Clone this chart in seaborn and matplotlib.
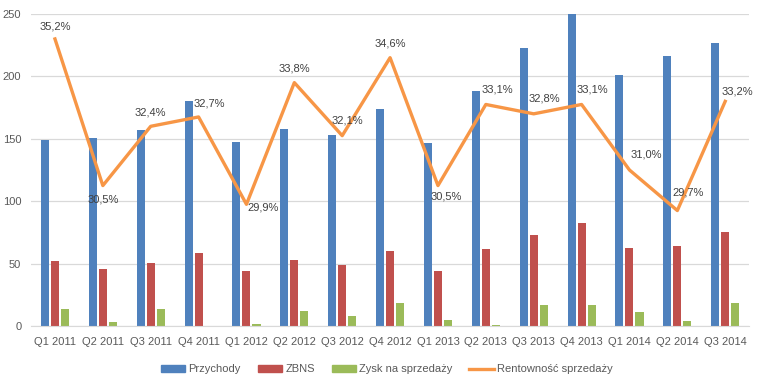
import numpy as np
import pandas as pd
import matplotlib
matplotlib.use('Agg')
import matplotlib.pyplot as plt
import seaborn as sns
from matplotlib.patches import Patch
from matplotlib.lines import Line2D

# dane
kwartaly = ['Q1 2011', 'Q2 2011', 'Q3 2011', 'Q4 2011', 'Q1 2012', 'Q2 2012', 'Q3 2012', 'Q4 2012',
            'Q1 2013', 'Q2 2013', 'Q3 2013', 'Q4 2013', 'Q1 2014', 'Q2 2014', 'Q3 2014']
przychody = [149, 151, 157, 180, 147.5, 158, 153, 174, 147, 188, 223, 250, 201, 216, 227]
zbns = [52, 46, 50.5, 58.5, 44, 53, 49, 60, 44, 62, 73, 82.5, 62.5, 64, 75]
zysk = [13.6, 3.2, 13.6, 0, 1.6, 12, 8, 18.4, 4.8, 1, 17, 17, 11, 4, 18.4]
rentownosc = [35.2, 30.5, 32.4, 32.7, 29.9, 33.8, 32.1, 34.6, 30.5, 33.1, 32.8, 33.1, 31.0, 29.7, 33.2]

serie = ['Przychody', 'ZBNS', 'Zysk na sprzedaży']
kolory = ['#4F81BD', '#C0504D', '#9BBB59']
pomaranczowy = '#F79646'
szary = '#595959'

df = pd.DataFrame({'kwartal': kwartaly * 3,
                   'seria': np.repeat(serie, len(kwartaly)),
                   'wartosc': przychody + zbns + zysk})

# przesunięcia etykiet procentowych (w punktach)
offsets = [(0, 9), (0, -10), (0, 10), (8, 10), (12, -2), (0, 10), (4, 11), (0, 10),
           (6, -8), (8, 11), (8, 11), (8, 11), (12, 11), (8, 13), (9, 7)]

plt.rcParams['font.family'] = ['Liberation Sans', 'DejaVu Sans']
fs = 8
fig = plt.figure(figsize=(7.66, 3.78), dpi=100)
ax = fig.add_axes([0.0405, 0.1376, 0.9375, 0.8254])

sns.barplot(data=df, x='kwartal', y='wartosc', hue='seria', palette=kolory,
            width=0.63, gap=0.2, ax=ax, legend=False, saturation=1)

ax.set_ylim(0, 250)
ax.set_xlim(-0.5, len(kwartaly) - 0.5)
ax.set_yticks(range(0, 251, 50))
ax.set_xlabel('')
ax.set_ylabel('')
ax.grid(axis='y', color='#D9D9D9', linewidth=0.9)
ax.set_axisbelow(True)
for s in ['top', 'right', 'left']:
    ax.spines[s].set_visible(False)
ax.spines['bottom'].set_color('#D9D9D9')
ax.tick_params(length=0, labelsize=fs, colors=szary)
ax.tick_params(axis='x', pad=8)
ax.tick_params(axis='y', pad=7)

ax2 = ax.twinx()
x = np.arange(len(kwartaly))
sns.lineplot(x=x, y=rentownosc, color=pomaranczowy, linewidth=2.4, ax=ax2)
ax2.set_ylim(26, 36)
ax2.axis('off')
for xi, v, off in zip(x, rentownosc, offsets):
    ax2.annotate(f'{v:.1f}%'.replace('.', ','), (xi, v), xytext=off, textcoords='offset points',
                 ha='center', va='center', fontsize=fs, color='#404040')

handles = [Patch(color=c) for c in kolory] + [Line2D([], [], color=pomaranczowy, linewidth=2.4)]
fig.legend(handles, serie + ['Rentowność sprzedaży'], loc='lower center', bbox_to_anchor=(0.505, -0.017),
           ncol=4, frameon=False, fontsize=fs, labelcolor=szary, handlelength=2.2, handleheight=0.55,
           handletextpad=0.3, columnspacing=1.5)

fig.savefig('out.png', dpi=100)
